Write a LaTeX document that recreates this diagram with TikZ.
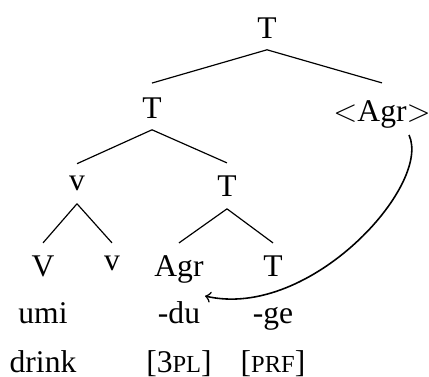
\documentclass[tikz,border=0pt]{standalone}
\usepackage{fontspec}
\setmainfont{Liberation Serif}
\begin{document}
\begin{tikzpicture}[x=0.38pt,y=-0.38pt,
  lbl/.style={inner sep=0pt,anchor=north,font=\fontsize{12}{14}\selectfont},
  gl/.style={inner sep=0pt,anchor=base,font=\fontsize{12}{14}\selectfont},
  branch/.style={line width=0.45pt},
  mvarrow/.style={->,semithick}]
\useasboundingbox (0,0) rectangle (429,376);
\newcommand{\smc}[1]{{\fontsize{9.3}{10}\selectfont #1}}
\node[lbl] (root) at (267,17) {T};
\node[lbl] (t1) at (152,97) {T};
\node[lbl] (agrc) at (382,100) {$<$Agr$>$};
\node[lbl] (vp) at (77,175) {v};
\node[lbl] (t2) at (227,175) {T};
\node[lbl] (V) at (43,255) {V};
\node[lbl] (vs) at (112,255) {v};
\node[lbl] (agr) at (179,255) {Agr};
\node[lbl] (t3) at (273,255) {T};
\node[gl] (umi) at (43,323) {umi};
\node[gl] (du) at (179,323) {-du};
\node[gl] (ge) at (273,323) {-ge};
\node[gl] (drink) at (43,372) {drink};
\node[gl] (pl) at (179,372) {[3\smc{PL}]};
\node[gl] (prf) at (273,372) {[\smc{PRF}]};
\draw[branch] ([yshift=-4.2pt]root.south) -- ([yshift=5.3pt]t1.north);
\draw[branch] ([yshift=-4.2pt]root.south) -- ([yshift=6.5pt]agrc.north);
\draw[branch] ([yshift=-4.2pt]t1.south) -- ([yshift=4.3pt]vp.north);
\draw[branch] ([yshift=-4.2pt]t1.south) -- ([yshift=4.6pt]t2.north);
\draw[branch] ([yshift=-4.9pt]vp.south) -- ([yshift=4.6pt]V.north);
\draw[branch] ([yshift=-4.9pt]vp.south) -- ([yshift=4.6pt]vs.north);
\draw[branch] ([yshift=-4.6pt]t2.south) -- ([yshift=4.6pt]agr.north);
\draw[branch] ([yshift=-4.6pt]t2.south) -- ([yshift=4.6pt]t3.north);
\coordinate (src) at (409,135);
\coordinate (dst) at (205,296);
\draw[mvarrow] (src) .. controls (432,185) and (310,320) .. (dst);
\end{tikzpicture}
\end{document}
